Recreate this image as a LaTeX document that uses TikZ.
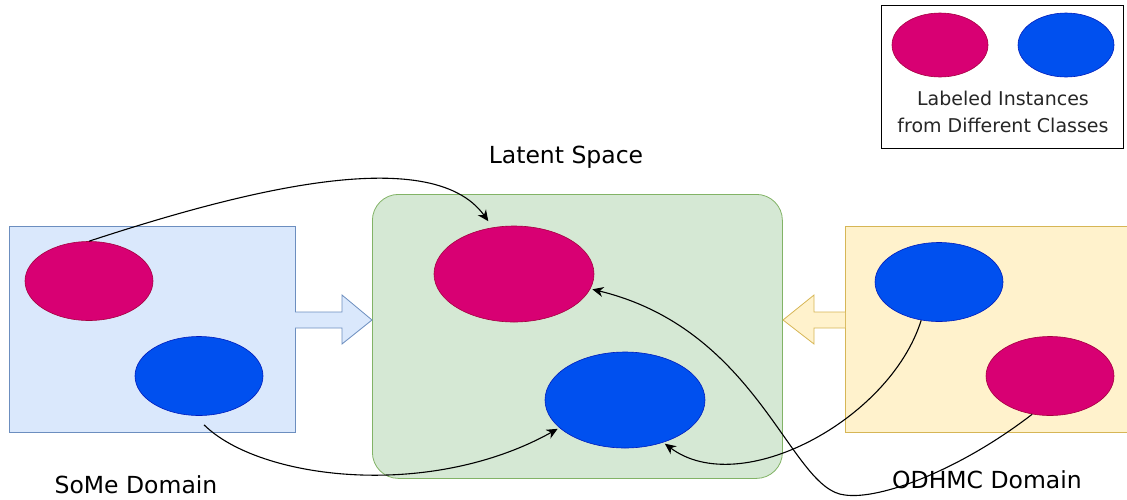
\documentclass[tikz,border=0pt]{standalone}
\usepackage{fontspec}
\setmainfont{DejaVu Sans}
\usetikzlibrary{arrows.meta,shapes.geometric}
\definecolor{pinkf}{HTML}{D80073}
\definecolor{pinkd}{HTML}{A50040}
\definecolor{bluef}{HTML}{0050EF}
\definecolor{blued}{HTML}{001DBC}
\definecolor{bbox}{HTML}{DAE8FC}
\definecolor{bboxd}{HTML}{6C8EBF}
\definecolor{gbox}{HTML}{D5E8D4}
\definecolor{gboxd}{HTML}{82B366}
\definecolor{ybox}{HTML}{FFF2CC}
\definecolor{yboxd}{HTML}{D6B656}
\tikzset{
  pinkell/.style={ellipse, fill=pinkf, draw=pinkd, line width=0.6pt, inner sep=0pt},
  blueell/.style={ellipse, fill=bluef, draw=blued, line width=0.6pt, inner sep=0pt},
  small/.style={minimum width=128pt, minimum height=79pt},
  big/.style={minimum width=160pt, minimum height=96pt},
  leg/.style={minimum width=96pt, minimum height=64pt},
  conn/.style={draw=black, line width=1.1pt, -{Stealth[length=11pt,width=10pt,inset=3.5pt]}, shorten >=2pt},
  lbl/.style={font=\fontsize{23.5}{26}\selectfont, text=black, inner sep=1pt},
  leglbl/.style={font=\fontsize{19}{27}\selectfont, text=black!85, align=center},
}
\begin{document}
\begin{tikzpicture}[x=1pt,y=-1pt]
\useasboundingbox (0,0) rectangle (1127,499);
% boxes
\node[draw=bboxd, fill=bbox, line width=0.8pt, minimum width=286pt, minimum height=206pt, anchor=north west, inner sep=0pt] (some) at (9,226) {};
\node[draw=gboxd, fill=gbox, line width=0.8pt, rounded corners=26pt, minimum width=410pt, minimum height=284pt, anchor=north west, inner sep=0pt] (lat) at (372,194) {};
\node[draw=yboxd, fill=ybox, line width=0.8pt, minimum width=290pt, minimum height=206pt, anchor=north west, inner sep=0pt] (odh) at (845,226) {};
% block arrows
\draw[fill=bbox, draw=bboxd, line width=0.8pt] (295,312) -- (342,312) -- (342,295) -- (372,320) -- (342,344) -- (342,328) -- (295,328);
\draw[fill=ybox, draw=yboxd, line width=0.8pt] (845,312) -- (814,312) -- (814,295) -- (783,320) -- (814,344) -- (814,328) -- (845,328);
% ellipses
\node[pinkell, small] (sp) at (89,281) {};
\node[blueell, small] (sb) at (199,376) {};
\node[pinkell, big] (lp) at (514,274) {};
\node[blueell, big] (lb) at (625,400) {};
\node[blueell, small] (ob) at (939,282) {};
\node[pinkell, small] (op) at (1050,376) {};
% labels
\node[lbl] (tlat) at (566,157) {Latent Space};
\node[lbl] (tsome) at (136,485) {SoMe Domain};
\node[lbl] (todh) at (987,480) {ODHMC Domain};
% legend
\node[draw=black, line width=0.9pt, minimum width=242pt, minimum height=143pt, anchor=north west, inner sep=0pt] (legbox) at (881,5) {};
\node[pinkell, leg] (lgp) at (940,45) {};
\node[blueell, leg] (lgb) at (1066,45) {};
\node[leglbl] (tleg) at (1003,112) {Labeled Instances\\from Different Classes};
% connectors
\draw[conn] (sp.north) .. controls (230,195) and (430,140) .. ([shift={(-1pt,5pt)}]lp.117);
\draw[conn] ([shift={(5pt,-9pt)}]sb.south) .. controls (260,480) and (430,500) .. (lb.203);
\draw[conn] (ob.245) .. controls (890,420) and (740,500) .. (lb.312);
\coordinate (bend) at (845,495);
\draw[conn] (op.245) .. controls (960,470) and (880,500) .. (bend) .. controls (790,490) and (760,330) .. (lp.349);
\end{tikzpicture}
\end{document}
